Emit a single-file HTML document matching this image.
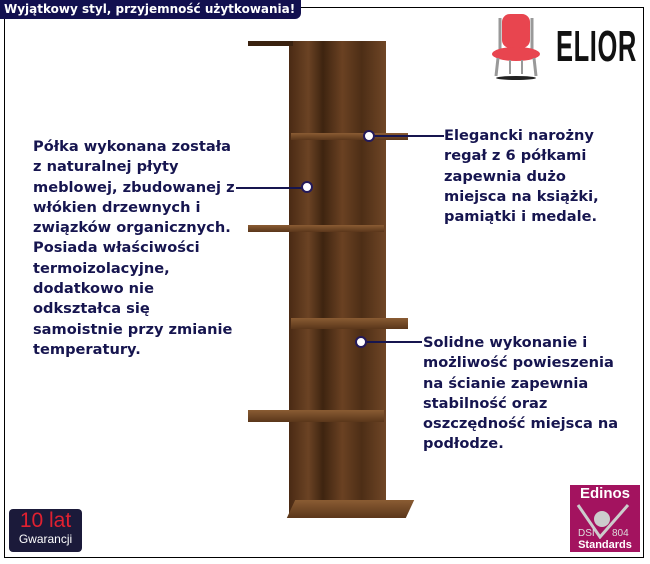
<!DOCTYPE html>
<html><head><meta charset="utf-8"><style>
html,body{margin:0;padding:0;background:#fff;width:650px;height:564px;overflow:hidden;position:relative;font-family:"DejaVu Sans","Liberation Sans",sans-serif}
.frame{position:absolute;left:4px;top:7px;width:638px;height:549px;border:1px solid #000;border-top-width:1px}
.hdr{position:absolute;left:0;top:0;height:19px;width:301px;background:#12104f;color:#fff;font-weight:bold;font-size:12px;line-height:18px;padding-left:4px;border-radius:0 0 6px 0;box-sizing:border-box;white-space:nowrap}
.t{position:absolute;color:#16154f;font-weight:bold;font-size:14.6px;line-height:20.3px;white-space:nowrap}
.ln{position:absolute;height:1.5px;background:#16154f}
.dot{position:absolute;width:8px;height:8px;border-radius:50%;background:#fff;border:2px solid #241a5a}
.w{position:absolute;background:linear-gradient(90deg,#4a2a14,#6b4324 20%,#3e2410 35%,#6a4122 55%,#4d2e16 75%,#704626);}
.s{position:absolute;background:linear-gradient(180deg,#8a5c33,#5a361a);}
</style></head><body>
<div class="frame"></div>
<div class="hdr">Wyjątkowy styl, przyjemność użytkowania!</div>

<div class="w" style="left:289px;top:41px;width:97px;height:476px"></div>
<div class="s" style="left:248px;top:41px;width:45px;height:5px;background:#3a2210"></div>
<div class="s" style="left:291px;top:133px;width:117px;height:7px"></div>
<div class="s" style="left:248px;top:225px;width:136px;height:7px"></div>
<div class="s" style="left:291px;top:318px;width:117px;height:11px"></div>
<div class="s" style="left:248px;top:410px;width:136px;height:12px"></div>
<div class="s" style="left:291px;top:500px;width:119px;height:18px;transform:skewX(-25deg)"></div>

<div class="ln" style="left:372px;top:135px;width:72px"></div>
<div class="dot" style="left:363px;top:130px"></div>
<div class="ln" style="left:236px;top:187px;width:68px"></div>
<div class="dot" style="left:301px;top:181px"></div>
<div class="ln" style="left:364px;top:341px;width:58px"></div>
<div class="dot" style="left:355px;top:336px"></div>

<div class="t" style="left:33px;top:137px">Półka wykonana została<br>z naturalnej płyty<br>meblowej, zbudowanej z<br>włókien drzewnych i<br>związków organicznych.<br>Posiada właściwości<br>termoizolacyjne,<br>dodatkowo nie<br>odkształca się<br>samoistnie przy zmianie<br>temperatury.</div>
<div class="t" style="left:444px;top:126px">Elegancki narożny<br>regał z 6 półkami<br>zapewnia dużo<br>miejsca na książki,<br>pamiątki i medale.</div>
<div class="t" style="left:423px;top:333px">Solidne wykonanie i<br>możliwość powieszenia<br>na ścianie zapewnia<br>stabilność oraz<br>oszczędność miejsca na<br>podłodze.</div>

<svg style="position:absolute;left:486px;top:12px" width="62" height="70">
<rect x="16" y="2" width="28" height="34" rx="8" fill="#e8454f"/>
<line x1="14" y1="6" x2="14" y2="46" stroke="#999" stroke-width="3"/>
<line x1="46" y1="6" x2="46" y2="46" stroke="#999" stroke-width="3"/>
<ellipse cx="30" cy="42" rx="24" ry="7" fill="#e8454f"/>
<line x1="12" y1="46" x2="10" y2="64" stroke="#999" stroke-width="3"/>
<line x1="48" y1="46" x2="50" y2="64" stroke="#999" stroke-width="3"/>
<line x1="24" y1="48" x2="24" y2="62" stroke="#999" stroke-width="2"/>
<line x1="36" y1="48" x2="36" y2="62" stroke="#999" stroke-width="2"/>
<ellipse cx="30" cy="66" rx="20" ry="2" fill="#222"/>
</svg>
<div style="position:absolute;left:556px;top:24px;font:bold 44px/46px 'Liberation Sans',sans-serif;color:#111;transform:scaleX(0.58);transform-origin:left top;letter-spacing:1px">ELIOR</div>

<div style="position:absolute;left:9px;top:509px;width:73px;height:43px;background:#1b1a3a;border-radius:4px;text-align:center;font-family:'Liberation Sans',sans-serif">
<div style="color:#e02030;font-size:21px;line-height:22px;margin-top:1px">10 lat</div>
<div style="color:#fff;font-size:12px;line-height:15px">Gwarancji</div></div>

<div style="position:absolute;left:570px;top:485px;width:70px;height:67px;background:#a3135f;font-family:'Liberation Sans',sans-serif;color:#fff;text-align:center">
<div style="font-weight:bold;font-size:15px;line-height:18px">Edinos</div>
<svg style="position:absolute;left:0;top:18px" width="70" height="36"><polyline points="8,2 30,34 58,2" fill="none" stroke="#ccc" stroke-width="3"/><circle cx="32" cy="16" r="8" fill="#ccc"/><text x="8" y="33" font-size="10" fill="#ddd" font-family="Liberation Sans">DSI</text><text x="42" y="33" font-size="10" fill="#ddd" font-family="Liberation Sans">804</text></svg>
<div style="position:absolute;left:0;bottom:0;width:70px;font-weight:bold;font-size:11px;line-height:13px">Standards</div></div>
</body></html>
